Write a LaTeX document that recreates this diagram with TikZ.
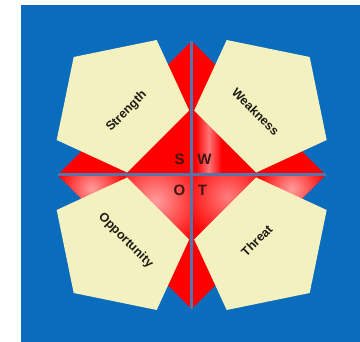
\documentclass[tikz,border=0pt]{standalone}
\usepackage{fontspec}
\setsansfont{Liberation Sans}
\usetikzlibrary{backgrounds}
\definecolor{SeaBlue}{HTML}{0A6CBC}
\definecolor{Cream}{HTML}{F4F1C1}
\definecolor{SwotRed}{HTML}{FF0000}
\definecolor{SwotPink}{HTML}{FF9C9C}
\definecolor{Steel}{HTML}{5574AC}
\definecolor{Ink}{HTML}{1E1A14}

\tikzset{
  petal/.style={fill=Cream, draw=none},
  axisline/.style={draw=Steel, line width=3pt},
  petal label/.style={font=\sffamily\bfseries\fontsize{12.5}{12.5}\selectfont, text=Ink, inner sep=0pt},
  swot letter/.style={font=\sffamily\bfseries\fontsize{15}{15}\selectfont, text=Ink!85!SwotRed, inner sep=0pt}
}

\begin{document}
\begin{tikzpicture}[x=1pt,y=1pt]
\useasboundingbox (-191.7,-167) rectangle (168.3,175);
\fill[SeaBlue] (-170.7,-167) rectangle (168.3,170);

% --- red star, one triangle per quadrant ---
\coordinate (c) at (0,0);
\coordinate (n) at (0,134);
\coordinate (s) at (0,-134);
\coordinate (w) at (-134,0);
\coordinate (e) at (134,0);

\begin{scope}
  \clip (c) -- (n) -- (w) -- cycle;
  \fill[SwotRed] (w) rectangle (n);
\end{scope}
\begin{scope}
  \clip (c) -- (n) -- (e) -- cycle;
  \fill[SwotRed] (c) rectangle (134,134);
  \shade[left color=SwotRed, right color=SwotRed, middle color=SwotPink!75!SwotRed] (4,0) rectangle (30,70);
\end{scope}
\begin{scope}
  \clip (c) -- (s) -- (w) -- cycle;
  \fill[SwotRed] (w) rectangle (s);
  \shade[inner color=SwotPink, outer color=SwotRed] (-36,-26) circle (54);
  \shade[inner color=SwotPink, outer color=SwotRed] (-100,-14) circle (36);
\end{scope}
\begin{scope}
  \clip (c) -- (s) -- (e) -- cycle;
  \fill[SwotRed] (c) rectangle (134,-134);
  \shade[inner color=SwotPink!80!SwotRed, outer color=SwotRed] (36,-22) circle (46);
  \shade[inner color=SwotPink, outer color=SwotRed] (100,-14) circle (36);
\end{scope}

\draw[axisline] (n) -- (s);
\draw[axisline] (w) -- (e);

% --- the four pentagons ---
\foreach \sx/\sy in {1/1,-1/1,1/-1,-1/-1}
  \fill[petal, xscale=\sx, yscale=\sy] (-118,118) -- (-35,135) -- (-2.5,64.5) -- (-64.5,2.5) -- (-135,35) -- cycle;

\node[petal label, rotate=45] (strength) at (-65,63.5) {Strength};
\node[petal label, rotate=-45] (weakness) at (64,63.5) {Weakness};
\node[petal label, rotate=-45] (opportunity) at (-66,-65.5) {Opportunity};
\node[petal label, rotate=45] (threat) at (65,-65.5) {Threat};

\node[swot letter] (S) at (-12,15.3) {S};
\node[swot letter] (W) at (12.8,15.3) {W};
\node[swot letter] (O) at (-12.2,-15.3) {O};
\node[swot letter] (T) at (10.8,-15.3) {T};
\end{tikzpicture}
\end{document}
